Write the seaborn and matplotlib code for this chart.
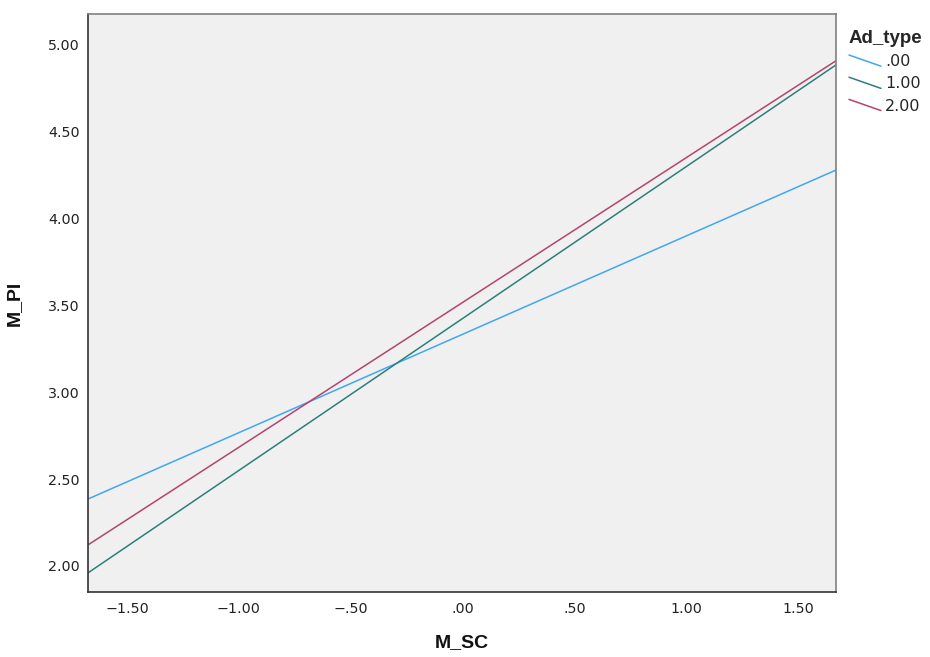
import matplotlib
matplotlib.use("Agg")
import matplotlib.pyplot as plt
from matplotlib.lines import Line2D
from matplotlib.legend_handler import HandlerBase
from matplotlib.patches import Rectangle
from matplotlib.font_manager import FontProperties
import pandas as pd
import seaborn as sns

# Fitted lines of M_PI on M_SC for each Ad_type group (endpoints of the x range)
ad_types = [".00", "1.00", "2.00"]
m_sc_range = [-1.674, 1.668]
m_pi_start = [2.385, 1.960, 2.121]
m_pi_end = [4.278, 4.883, 4.907]
line_colors = ["#3fa8f0", "#2c7f7a", "#b5446f"]

x_ticks = [-1.5, -1.0, -0.5, 0.0, 0.5, 1.0, 1.5]
x_tick_labels = ["\u22121.50", "\u22121.00", "\u2212.50", ".00", ".50", "1.00", "1.50"]
y_ticks = [2.0, 2.5, 3.0, 3.5, 4.0, 4.5, 5.0]
y_tick_labels = ["2.00", "2.50", "3.00", "3.50", "4.00", "4.50", "5.00"]

rows = []
for t, y0, y1 in zip(ad_types, m_pi_start, m_pi_end):
    rows.append({"M_SC": m_sc_range[0], "M_PI": y0, "Ad_type": t})
    rows.append({"M_SC": m_sc_range[1], "M_PI": y1, "Ad_type": t})
df = pd.DataFrame(rows)

sns.set_theme(style="white")
plt.rcParams["font.family"] = ["DejaVu Sans"]

fig = plt.figure(figsize=(9.3, 6.57), dpi=100)
ax = fig.add_axes([88 / 930, 1 - 592 / 657, (836 - 88) / 930, (592 - 14) / 657])
ax.set_facecolor("#f0f0f0")

sns.lineplot(data=df, x="M_SC", y="M_PI", hue="Ad_type", hue_order=ad_types,
             palette=line_colors, linewidth=1.1, ax=ax, legend=True)

ax.set_xlim(-1.674, 1.668)
ax.set_ylim(1.85, 5.176)
ax.set_xticks(x_ticks)
ax.set_xticklabels(x_tick_labels)
ax.set_yticks(y_ticks)
ax.set_yticklabels(y_tick_labels)
ax.tick_params(axis="both", length=0, labelsize=10.3, colors="#222222")
ax.tick_params(axis="x", pad=7)
ax.tick_params(axis="y", pad=6)

label_font = dict(family="Liberation Sans", weight="bold", size=14, color="#111111")
ax.set_xlabel("M_SC", labelpad=13, **label_font)
ax.set_ylabel("M_PI", labelpad=18, **label_font)

for side in ["left", "bottom"]:
    ax.spines[side].set_color("#333333")
    ax.spines[side].set_linewidth(1.2)
for side in ["top", "right"]:
    ax.spines[side].set_color("#808080")
    ax.spines[side].set_linewidth(1.2)


class SlantHandler(HandlerBase):
    def create_artists(self, legend, orig_handle, xdescent, ydescent,
                       width, height, fontsize, trans):
        ln = Line2D([-xdescent, -xdescent + width],
                    [-ydescent + height * 1.0, -ydescent],
                    color=orig_handle.get_color(), linewidth=1.1)
        ln.set_transform(trans)
        return [ln]


handles, labels = ax.get_legend_handles_labels()
ax.get_legend().remove()

# white panel behind the legend, covering the corner of the frame
fig.patches.append(Rectangle((837 / 930, 1 - 128 / 657), 93 / 930, 128 / 657,
                             transform=fig.transFigure, facecolor="white",
                             edgecolor="none", zorder=3))

leg = fig.legend(handles, labels, title="Ad_type",
                 handler_map={Line2D: SlantHandler()},
                 loc="upper left", bbox_to_anchor=(849 / 930, 1 - 30 / 657),
                 frameon=False, fontsize=11.5, handlelength=2.0,
                 handletextpad=0.25, labelspacing=0.45, borderpad=0,
                 borderaxespad=0, alignment="left")
leg.set_zorder(4)
leg.get_title().set_fontproperties(
    FontProperties(family="Liberation Sans", weight="bold", size=13.5))

fig.savefig("out.png", dpi=100, facecolor="white")
